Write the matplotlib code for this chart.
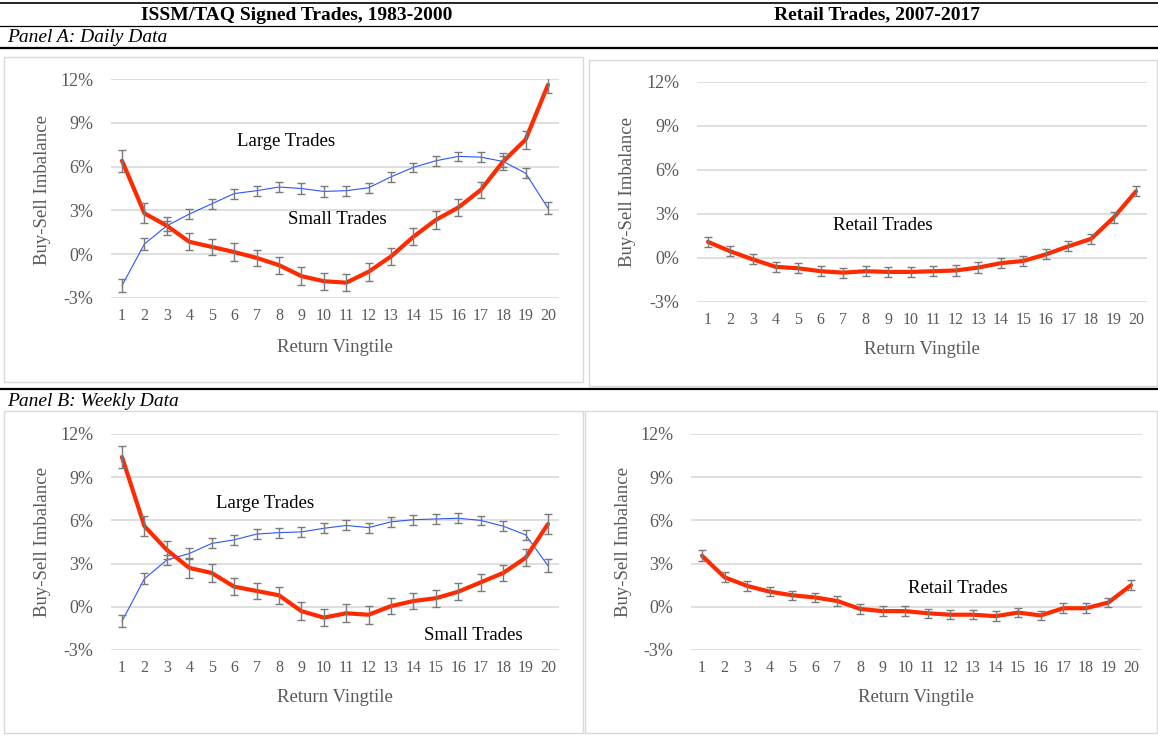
import matplotlib
matplotlib.use("Agg")
import matplotlib.pyplot as plt
from matplotlib.lines import Line2D
from matplotlib.patches import Rectangle
from matplotlib.ticker import FuncFormatter

plt.rcParams['font.family'] = ['Liberation Serif', 'DejaVu Serif']

vingtile = list(range(1, 21))
yticks = [-3, 0, 3, 6, 9, 12]

# Panel A: daily data, ISSM/TAQ 1983-2000 (percent)
a_small = [6.4, 2.8, 1.95, 0.85, 0.5, 0.15, -0.25, -0.75, -1.5, -1.85,
           -1.95, -1.2, -0.15, 1.2, 2.35, 3.2, 4.4, 6.35, 7.85, 11.6]
a_small_err = [0.76, 0.68, 0.63, 0.58, 0.57, 0.6, 0.57, 0.59, 0.63, 0.57,
               0.59, 0.62, 0.57, 0.59, 0.59, 0.57, 0.57, 0.57, 0.62, 0.55]
a_large = [-2.15, 0.7, 1.95, 2.75, 3.45, 4.15, 4.35, 4.6, 4.5, 4.3,
           4.35, 4.55, 5.3, 5.95, 6.4, 6.7, 6.65, 6.35, 5.55, 3.15]
a_large_err = [0.42, 0.38, 0.35, 0.35, 0.35, 0.35, 0.35, 0.35, 0.35, 0.35,
               0.35, 0.35, 0.35, 0.33, 0.33, 0.33, 0.33, 0.35, 0.32, 0.43]

# Panel A: daily data, retail 2007-2017
a_retail = [1.1, 0.45, -0.1, -0.6, -0.7, -0.9, -1.0, -0.9, -0.95, -0.95,
            -0.9, -0.85, -0.65, -0.35, -0.2, 0.25, 0.8, 1.3, 2.75, 4.55]
a_retail_err = [0.36, 0.34, 0.34, 0.35, 0.35, 0.35, 0.35, 0.35, 0.35, 0.35,
                0.35, 0.35, 0.35, 0.35, 0.35, 0.35, 0.34, 0.34, 0.36, 0.34]

# Panel B: weekly data, ISSM/TAQ 1983-2000
b_small = [10.4, 5.6, 3.95, 2.7, 2.35, 1.4, 1.1, 0.8, -0.3, -0.75,
           -0.45, -0.55, 0.05, 0.4, 0.6, 1.05, 1.7, 2.35, 3.4, 5.75]
b_small_err = [0.79, 0.7, 0.6, 0.67, 0.6, 0.6, 0.57, 0.59, 0.64, 0.58,
               0.63, 0.63, 0.58, 0.58, 0.6, 0.57, 0.58, 0.58, 0.6, 0.66]
b_large = [-1.0, 1.95, 3.25, 3.7, 4.4, 4.65, 5.05, 5.15, 5.2, 5.45,
           5.65, 5.5, 5.9, 6.05, 6.1, 6.15, 6.0, 5.6, 5.0, 2.85]
b_large_err = [0.43, 0.39, 0.36, 0.36, 0.35, 0.35, 0.35, 0.35, 0.35, 0.35,
               0.35, 0.35, 0.35, 0.35, 0.35, 0.35, 0.33, 0.33, 0.35, 0.45]

# Panel B: weekly data, retail 2007-2017
b_retail = [3.55, 2.05, 1.45, 1.05, 0.8, 0.65, 0.4, -0.15, -0.3, -0.3,
            -0.45, -0.55, -0.55, -0.65, -0.4, -0.6, -0.1, -0.1, 0.3, 1.5]
b_retail_err = [0.36, 0.34, 0.33, 0.33, 0.33, 0.33, 0.33, 0.33, 0.33, 0.33,
                0.33, 0.33, 0.33, 0.33, 0.33, 0.33, 0.33, 0.33, 0.33, 0.33]

W, H = 1158, 742
RED = "#ff2a00"
BLUE = "#2b55ff"
GREY = "#595959"
GRID = "#d9d9d9"

fig = plt.figure(figsize=(W / 100, H / 100), dpi=100)


def rect(x0, y0, x1, y1):
    return [x0 / W, 1 - y1 / H, (x1 - x0) / W, (y1 - y0) / H]


def hline(y, lw, color="black", x0=0, x1=W):
    fig.add_artist(Line2D([x0 / W, x1 / W], [1 - y / H] * 2, lw=lw, color=color,
                          transform=fig.transFigure))


def frame(x0, y0, x1, y1):
    fig.add_artist(Rectangle((x0 / W, 1 - y1 / H), (x1 - x0) / W, (y1 - y0) / H,
                             transform=fig.transFigure, fill=False, ec=GRID, lw=1.0))


def panel(box, series, notes, ylab_xy, xlab_xy):
    ax = fig.add_axes(rect(*box))
    for vals, errs, color, lw in series:
        ax.plot(vingtile, vals, color=color, lw=lw, solid_joinstyle="round",
                solid_capstyle="round", zorder=3)
        ax.errorbar(vingtile, vals, yerr=errs, fmt="none", ecolor="#7a7a7a",
                    elinewidth=1.0, capsize=3.2, capthick=1.0, zorder=4)
    for txt, x, y in notes:
        ax.text(x, y, txt, ha="center", va="center", fontsize=13.5, color="black")
    ax.set_xlim(0.5, 20.5)
    ax.set_ylim(-3, 12)
    ax.set_xticks(vingtile)
    ax.set_yticks(yticks)
    ax.yaxis.set_major_formatter(FuncFormatter(lambda v, _: f"{v:.0f}%"))
    ax.grid(axis="y", color=GRID, lw=1.2)
    ax.set_axisbelow(True)
    for s in ax.spines.values():
        s.set_visible(False)
    ax.tick_params(axis="x", length=0, pad=7, labelsize=11.5, labelcolor=GREY)
    ax.tick_params(axis="y", length=0, pad=12.5, labelsize=13, labelcolor=GREY)
    fig.text(ylab_xy[0] / W, 1 - ylab_xy[1] / H, "Buy-Sell Imbalance", rotation=90,
             ha="center", va="center", fontsize=13.5, color=GREY)
    fig.text(xlab_xy[0] / W, 1 - xlab_xy[1] / H, "Return Vingtile",
             ha="center", va="center", fontsize=13.5, color=GREY)
    return ax


# rules and headers
hline(3, 1.2)
hline(26, 0.9)
hline(48, 1.6)
hline(389, 1.6)
fig.text(297 / W, 1 - 15 / H, "ISSM/TAQ Signed Trades, 1983-2000", ha="center",
         va="center", fontsize=14, weight="bold")
fig.text(877 / W, 1 - 15 / H, "Retail Trades, 2007-2017", ha="center",
         va="center", fontsize=14, weight="bold")
fig.text(7 / W, 1 - 38 / H, "Panel A: Daily Data", ha="left", va="center",
         fontsize=14, style="italic")
fig.text(7 / W, 1 - 401 / H, "Panel B: Weekly Data", ha="left", va="center",
         fontsize=14, style="italic")

# chart frames
frame(4, 57, 583, 382)
frame(589, 60, 1157, 386)
frame(4, 411, 583, 733)
frame(585, 411, 1157, 733)

panel((110.8, 79, 559.2, 298),
      [(a_large, a_large_err, BLUE, 0.8), (a_small, a_small_err, RED, 3.0)],
      [("Large Trades", 8.3, 7.75), ("Small Trades", 10.6, 2.4)],
      (43, 190), (335, 347))
panel((696.7, 82, 1147.3, 302),
      [(a_retail, a_retail_err, RED, 3.0)],
      [("Retail Trades", 8.75, 2.25)],
      (628, 192), (922, 350))
panel((110.8, 434, 559.2, 650),
      [(b_large, b_large_err, BLUE, 0.8), (b_small, b_small_err, RED, 3.0)],
      [("Large Trades", 7.4, 7.2), ("Small Trades", 16.65, -2.0)],
      (43, 542), (335, 698))
panel((690.7, 434, 1142.3, 650),
      [(b_retail, b_retail_err, RED, 3.0)],
      [("Retail Trades", 12.35, 1.3)],
      (624, 542), (916, 698))

fig.savefig("out.png", dpi=100)
